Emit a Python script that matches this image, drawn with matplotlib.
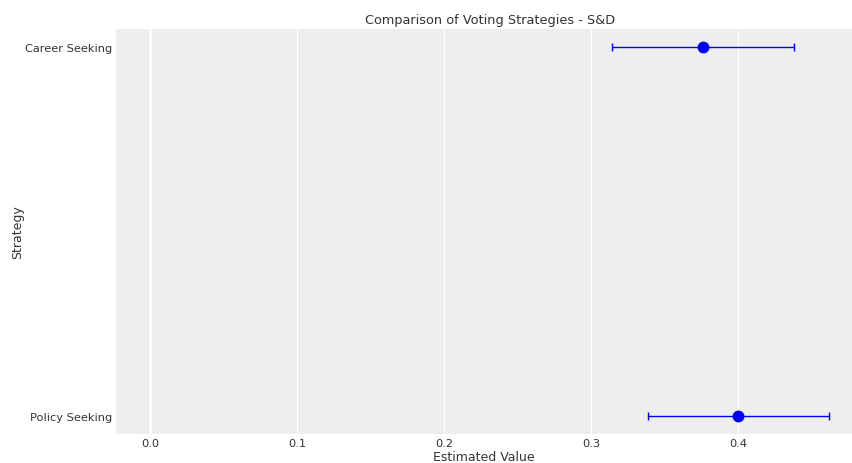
import matplotlib
matplotlib.use("Agg")
import matplotlib.pyplot as plt

strategies = ["Policy Seeking", "Career Seeking"]
estimates = [0.400, 0.376]
lower = [0.339, 0.314]
upper = [0.462, 0.438]

plt.rcParams["font.family"] = ["DejaVu Sans"]
text_color = "#333333"

fig = plt.figure(figsize=(8.52, 4.64), dpi=100)
ax = fig.add_axes([116 / 852, 1 - 435 / 464, (852 - 116) / 852, (435 - 30) / 464])
ax.set_facecolor("#eeeeee")

ypos = list(range(len(strategies)))
xerr = [[e - lo for e, lo in zip(estimates, lower)],
        [hi - e for e, hi in zip(estimates, upper)]]
ax.errorbar(estimates, ypos, xerr=xerr, fmt="o", color="blue", ecolor="blue",
            markersize=7.5, elinewidth=1.0, capsize=3, capthick=1.0, zorder=3)

ax.axvline(0, color="white", linewidth=1.8, zorder=1)

ax.set_yticks(ypos)
ax.set_yticklabels(strategies)
ax.set_xticks([0.0, 0.1, 0.2, 0.3, 0.4])
ax.set_xlim(-0.0231, 0.4775)
ax.set_ylim(-0.05, 1.05)

ax.grid(axis="x", color="white", linewidth=0.8)
ax.grid(axis="y", visible=False)
ax.set_axisbelow(True)
for s in ax.spines.values():
    s.set_visible(False)
ax.tick_params(length=0, labelsize=8.2, colors=text_color, pad=3)

ax.set_xlabel("Estimated Value", fontsize=9, color=text_color, labelpad=1)
ax.set_ylabel("Strategy", fontsize=9, color=text_color, labelpad=0.5)
ax.set_title("Comparison of Voting Strategies - S&D", fontsize=9.3, color=text_color,
             pad=4, x=(490 - 116) / (852 - 116))

fig.savefig("out.png", dpi=100)
